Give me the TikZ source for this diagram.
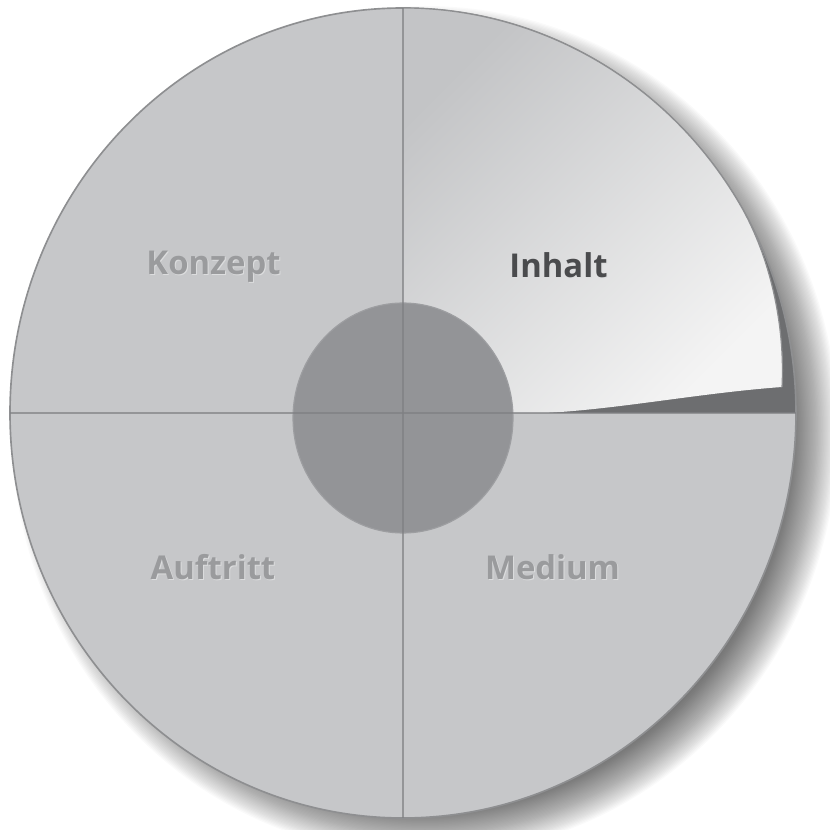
\documentclass[tikz,border=0pt]{standalone}
\usepackage{fontspec}
\newfontfamily\lblfont{Open Sans}
\definecolor{quad}{HTML}{C6C7C9}
\definecolor{rim}{HTML}{8E8F91}
\definecolor{under}{HTML}{6D6E70}
\definecolor{hub}{HTML}{939497}
\definecolor{hubrim}{HTML}{9D9EA1}
\definecolor{lblgray}{HTML}{9A9B9D}
\definecolor{lbldark}{HTML}{4A4B4D}
\definecolor{lblhi}{HTML}{DCDDDE}
\definecolor{flapA}{HTML}{C3C4C6}
\definecolor{flapB}{HTML}{F4F4F4}
\definecolor{divline}{HTML}{7F8083}
\tikzset{
  segtext/.style={anchor=base, inner sep=0pt, font=\lblfont\bfseries\fontsize{28}{30}\selectfont},
  seghi/.style={segtext, text=lblhi},
  divider/.style={divline, opacity=0.7, line width=1.4pt},
  shadowring/.style={black, opacity=0.018}
}
\begin{document}
\begin{tikzpicture}[x=0.03cm,y=0.03cm]
\useasboundingbox (0,0) rectangle (830,829);
\clip (0,0) rectangle (830,829);
% soft drop shadow
\foreach \i in {0,...,39}{
  \fill[shadowring] (425,398) ellipse [x radius={393+20-1.25*\i}, y radius={405+20-1.25*\i}];
}
% disc
\fill[quad] (403,416) ellipse [x radius=393, y radius=405];
% exposed area under the curled quadrant
\fill[under] (403,416) -- (796,416) arc [start angle=0, end angle=90, x radius=393, y radius=405] -- cycle;
\draw[rim, line width=1.4pt] (403,416) ellipse [x radius=393, y radius=405];
% curled quadrant
\coordinate (ftop) at (403,821);
\coordinate (ftip) at (782,442);
\coordinate (fbase) at (545,416);
\shade[top color=flapA, bottom color=flapB, shading angle=45]
  (403,416) -- (ftop) arc [start angle=90, end angle=30, x radius=393, y radius=405]
  .. controls (772,566) and (785,500) .. (ftip)
  .. controls (700,436) and (620,420) .. (fbase) -- cycle;
\draw[rim, line width=1pt] (ftop) arc [start angle=90, end angle=30, x radius=393, y radius=405]
  .. controls (772,566) and (785,500) .. (ftip);
% hub
\fill[hub, draw=hubrim, line width=1pt] (403,411) ellipse [x radius=110, y radius=115];
% dividers
\coordinate (top) at (403,821);
\coordinate (bottom) at (403,11);
\coordinate (left) at (10,416);
\coordinate (right) at (796,416);
\draw[divider] (top) -- (bottom);
\draw[divider] (left) -- (right);
% labels
\node[seghi] (konzepthi) at (214.5,553) {Konzept};
\node[segtext, text=lblgray] (konzept) at (213.5,554) {Konzept};
\node[seghi] (inhalthi) at (559.5,550) {Inhalt};
\node[segtext, text=lbldark] (inhalt) at (558.5,551) {Inhalt};
\node[seghi] (auftritthi) at (214,248) {Auftritt};
\node[segtext, text=lblgray] (auftritt) at (213,249) {Auftritt};
\node[seghi] (mediumhi) at (553.5,248) {Medium};
\node[segtext, text=lblgray] (medium) at (552.5,249) {Medium};
\end{tikzpicture}
\end{document}
